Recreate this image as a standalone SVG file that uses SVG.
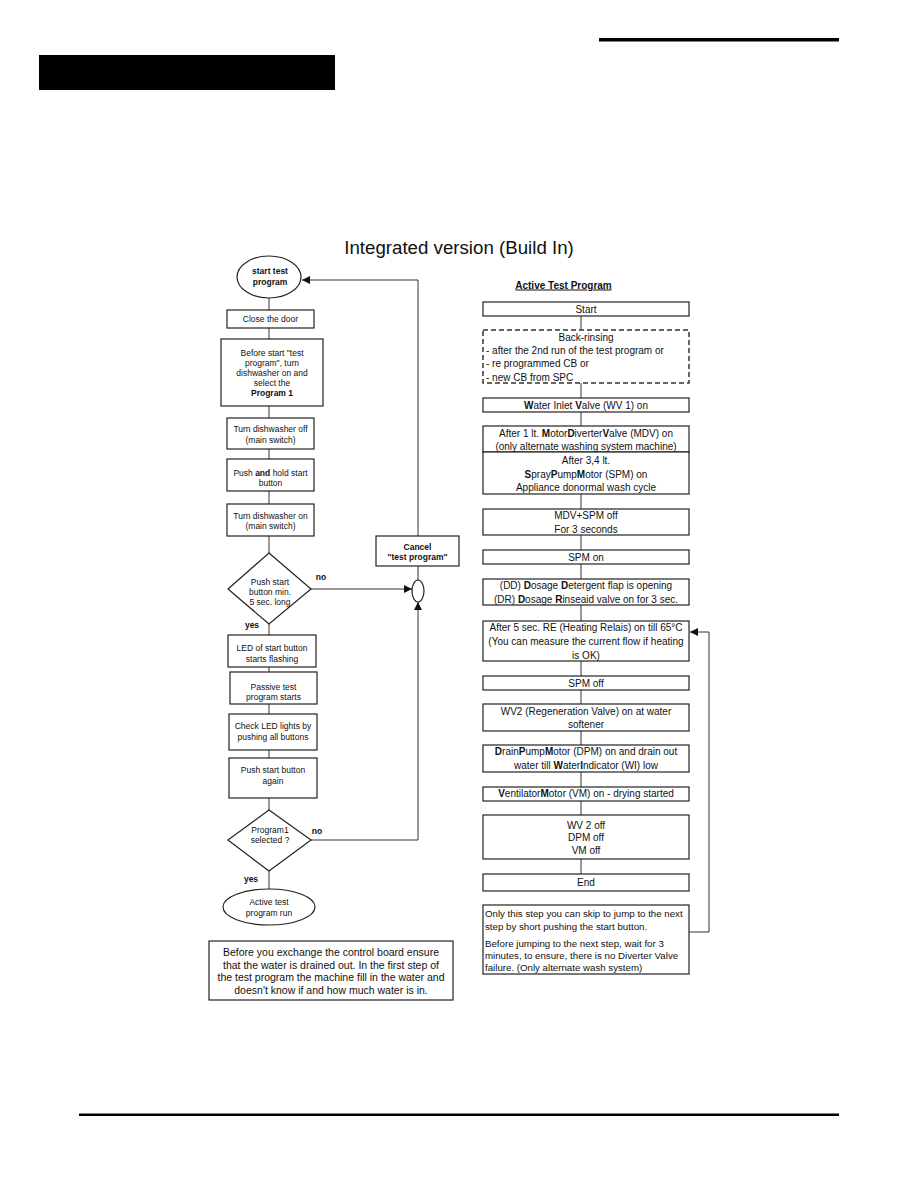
<svg xmlns="http://www.w3.org/2000/svg" width="918" height="1188" viewBox="0 0 918 1188">
<style>
text{font-family:"Liberation Sans",Arial,sans-serif;fill:#111}
.l{font-size:8.5px;text-anchor:middle}
.lb{font-size:8.5px;text-anchor:middle;font-weight:bold}
.r{font-size:10px;text-anchor:middle}
.rl{font-size:10px;text-anchor:start}
.rn{font-size:9.7px;text-anchor:start}
.n{font-size:10.5px;text-anchor:middle}
.box{fill:#fff;stroke:#222;stroke-width:1.2}
.dash{fill:#fff;stroke:#333;stroke-width:1.5;stroke-dasharray:5,3}
.c{fill:none;stroke:#333;stroke-width:1}
.b{font-weight:bold}
</style>
<defs>
<marker id="ah" viewBox="0 0 10 10" refX="10" refY="5" markerWidth="8" markerHeight="8" markerUnits="userSpaceOnUse" orient="auto">
<path d="M0,0L10,5L0,10z" fill="#111"/>
</marker>
</defs>
<rect x="0" y="0" width="918" height="1188" fill="#fff"/>
<rect x="39" y="55" width="296" height="35" fill="#000"/>
<rect x="599" y="38" width="240" height="3.5" fill="#000"/>
<rect x="79" y="1113.5" width="760" height="2.5" fill="#000"/>
<text x="459" y="254" style="font-size:18.7px;text-anchor:middle">Integrated version (Build In)</text>

<g id="connectors">
<path class="c" d="M269,298V310M269,328V339M269,406V418M269,449V459M269,491V504M269,536V553M269,624V635M269,667V672M269,704V714M269,750V758M269,798V810M269,871V889"/>
<path class="c" d="M311,589H412" marker-end="url(#ah)"/>
<path class="c" d="M418,580V566"/>
<path class="c" d="M418,536V280H302" marker-end="url(#ah)"/>
<path class="c" d="M311,840H418V602" marker-end="url(#ah)"/>
<path class="c" d="M581,316V330M581,383V398M581,412V426M581,494V509M581,535V550M581,564V579M581,605V621M581,661V676M581,690V704M581,731V745M581,772V787M581,801V815M581,859V874"/>
<path class="c" d="M689,932H709V632H690" marker-end="url(#ah)"/>
</g>

<g id="start">
<ellipse class="box" cx="269" cy="277" rx="32" ry="21"/>
<text class="lb" x="270" y="274">start test</text>
<text class="lb" x="270" y="285">program</text>
</g>
<g id="close-door">
<rect class="box" x="227" y="310" width="87" height="18"/>
<text class="l" x="270.5" y="322">Close the door</text>
</g>
<g id="before-start">
<rect class="box" x="221" y="339" width="102" height="67"/>
<text class="l" x="272" y="355.7">Before start "test</text>
<text class="l" x="272" y="365.7">program", turn</text>
<text class="l" x="272" y="375.7">dishwasher on and</text>
<text class="l" x="272" y="385.7">select the</text>
<text class="lb" x="272" y="395.7">Program 1</text>
</g>
<g id="turn-off">
<rect class="box" x="227" y="418" width="87" height="31"/>
<text class="l" x="270.5" y="432.3">Turn dishwasher off</text>
<text class="l" x="270.5" y="443">(main switch)</text>
</g>
<g id="push-hold">
<rect class="box" x="227" y="459" width="87" height="32"/>
<text class="l" x="270.5" y="475.7">Push <tspan class="b">and</tspan> hold start</text>
<text class="l" x="270.5" y="485.7">button</text>
</g>
<g id="turn-on">
<rect class="box" x="227" y="504" width="87" height="32"/>
<text class="l" x="270.5" y="518.7">Turn dishwasher on</text>
<text class="l" x="270.5" y="529">(main switch)</text>
</g>
<g id="decision1">
<polygon class="box" points="269,553 311,589 269,624 228,589"/>
<text class="l" x="270" y="584.7">Push start</text>
<text class="l" x="270" y="595">button min.</text>
<text class="l" x="270" y="605">5 sec. long</text>
<text class="lb" x="321" y="579.7">no</text>
<text class="lb" x="252" y="627.7">yes</text>
</g>
<g id="junction">
<ellipse class="box" cx="418" cy="591" rx="6" ry="11"/>
</g>
<g id="cancel">
<rect class="box" x="376" y="536" width="83" height="30"/>
<text class="lb" x="417.5" y="550">Cancel</text>
<text class="lb" x="417.5" y="559.7">"test program"</text>
</g>
<g id="led">
<rect class="box" x="228" y="635" width="88" height="32"/>
<text class="l" x="272" y="651.3">LED of start button</text>
<text class="l" x="272" y="662">starts flashing</text>
</g>
<g id="passive">
<rect class="box" x="230" y="672" width="87" height="32"/>
<text class="l" x="273.5" y="690">Passive test</text>
<text class="l" x="273.5" y="700">program starts</text>
</g>
<g id="check-led">
<rect class="box" x="229" y="714" width="88" height="36"/>
<text class="l" x="273" y="729">Check LED lights by</text>
<text class="l" x="273" y="739.7">pushing all buttons</text>
</g>
<g id="push-again">
<rect class="box" x="229" y="758" width="88" height="40"/>
<text class="l" x="273" y="773.3">Push start button</text>
<text class="l" x="273" y="784">again</text>
</g>
<g id="decision2">
<polygon class="box" points="269,810 311,840 269,871 228,840"/>
<text class="l" x="270" y="833">Program1</text>
<text class="l" x="270" y="842.5">selected ?</text>
<text class="lb" x="317" y="833.7">no</text>
<text class="lb" x="251" y="882">yes</text>
</g>
<g id="active-run">
<ellipse class="box" cx="269" cy="907" rx="46" ry="18"/>
<text class="l" x="269" y="905.3">Active test</text>
<text class="l" x="269" y="915.7">program run</text>
</g>
<g id="note-left">
<rect class="box" x="209" y="941" width="244" height="59"/>
<text class="n" x="331" y="956">Before you exchange the control board ensure</text>
<text class="n" x="331" y="968.7">that the water is drained out. In the first step of</text>
<text class="n" x="331" y="981.4">the test program the machine fill in the water and</text>
<text class="n" x="331" y="993.7">doesn't know if and how much water is in.</text>
</g>

<g id="active-title">
<text x="563.5" y="288.5" style="font-size:10px;font-weight:bold;text-anchor:middle;text-decoration:underline">Active Test Program</text>
</g>
<g id="r-start">
<rect class="box" x="483" y="302" width="206" height="14"/>
<text class="r" x="586" y="312.5">Start</text>
</g>
<g id="r-backrinse">
<rect class="dash" x="483" y="330" width="206" height="53"/>
<text class="r" x="586" y="340.8">Back-rinsing</text>
<text class="rl" x="486" y="354.2">- after the 2nd run of the test program or</text>
<text class="rl" x="486" y="367.2">- re programmed CB or</text>
<text class="rl" x="486" y="380.8">- new CB from SPC</text>
</g>
<g id="r-wv1">
<rect class="box" x="483" y="398" width="206" height="14"/>
<text class="r" x="586" y="409.2"><tspan class="b">W</tspan>ater Inlet <tspan class="b">V</tspan>alve (WV 1) on</text>
</g>
<g id="r-mdv">
<rect class="box" x="483" y="426" width="206" height="26"/>
<text class="r" x="586" y="436.8">After 1 lt. <tspan class="b">M</tspan>otor<tspan class="b">D</tspan>iverter<tspan class="b">V</tspan>alve (MDV) on</text>
<text class="r" x="586" y="450.2">(only alternate washing system machine)</text>
</g>
<g id="r-spm">
<rect class="box" x="483" y="452" width="206" height="42"/>
<text class="r" x="586" y="463.5">After 3,4 lt.</text>
<text class="r" x="586" y="477.5"><tspan class="b">S</tspan>pray<tspan class="b">P</tspan>ump<tspan class="b">M</tspan>otor (SPM) on</text>
<text class="r" x="586" y="490.8">Appliance donormal wash cycle</text>
</g>
<g id="r-mdvoff">
<rect class="box" x="483" y="509" width="206" height="26"/>
<text class="r" x="586" y="519.2">MDV+SPM off</text>
<text class="r" x="586" y="532.8">For 3 seconds</text>
</g>
<g id="r-spmon">
<rect class="box" x="483" y="550" width="206" height="14"/>
<text class="r" x="586" y="560.5">SPM on</text>
</g>
<g id="r-dosage">
<rect class="box" x="483" y="579" width="206" height="26"/>
<text class="r" x="586" y="589.2">(DD) <tspan class="b">D</tspan>osage <tspan class="b">D</tspan>etergent flap is opening</text>
<text class="r" x="586" y="602.5">(DR) <tspan class="b">D</tspan>osage <tspan class="b">R</tspan>inseaid valve on for 3 sec.</text>
</g>
<g id="r-heating">
<rect class="box" x="483" y="621" width="206" height="40"/>
<text class="r" x="586" y="631.2">After 5 sec. RE (Heating Relais) on till 65°C</text>
<text class="r" x="586" y="645.2">(You can measure the current flow if heating</text>
<text class="r" x="586" y="658.5">is OK)</text>
</g>
<g id="r-spmoff">
<rect class="box" x="483" y="676" width="206" height="14"/>
<text class="r" x="586" y="686.5">SPM off</text>
</g>
<g id="r-wv2">
<rect class="box" x="483" y="704" width="206" height="27"/>
<text class="r" x="586" y="715.2">WV2 (Regeneration Valve) on at water</text>
<text class="r" x="586" y="727.8">softener</text>
</g>
<g id="r-dpm">
<rect class="box" x="483" y="745" width="206" height="27"/>
<text class="r" x="586" y="755.2"><tspan class="b">D</tspan>rain<tspan class="b">P</tspan>ump<tspan class="b">M</tspan>otor (DPM) on and drain out</text>
<text class="r" x="586" y="768.5">water till <tspan class="b">W</tspan>ater<tspan class="b">I</tspan>ndicator (WI) low</text>
</g>
<g id="r-vm">
<rect class="box" x="483" y="787" width="206" height="14"/>
<text class="r" x="586" y="797.2"><tspan class="b">V</tspan>entilator<tspan class="b">M</tspan>otor (VM) on - drying started</text>
</g>
<g id="r-off">
<rect class="box" x="483" y="815" width="206" height="44"/>
<text class="r" x="586" y="828.5">WV 2 off</text>
<text class="r" x="586" y="841.2">DPM off</text>
<text class="r" x="586" y="854.2">VM off</text>
</g>
<g id="r-end">
<rect class="box" x="483" y="874" width="206" height="17"/>
<text class="r" x="586" y="885.5">End</text>
</g>
<g id="r-note">
<rect class="box" x="483" y="905" width="206" height="69"/>
<text class="rn" x="485" y="916.8">Only this step you can skip to jump to the next</text>
<text class="rn" x="485" y="929.5">step by short pushing the start button.</text>
<text class="rn" x="485" y="946.8">Before jumping to the next step, wait for 3</text>
<text class="rn" x="485" y="958.5">minutes, to ensure, there is no Diverter Valve</text>
<text class="rn" x="485" y="970.8">failure. (Only alternate wash system)</text>
</g>
</svg>
